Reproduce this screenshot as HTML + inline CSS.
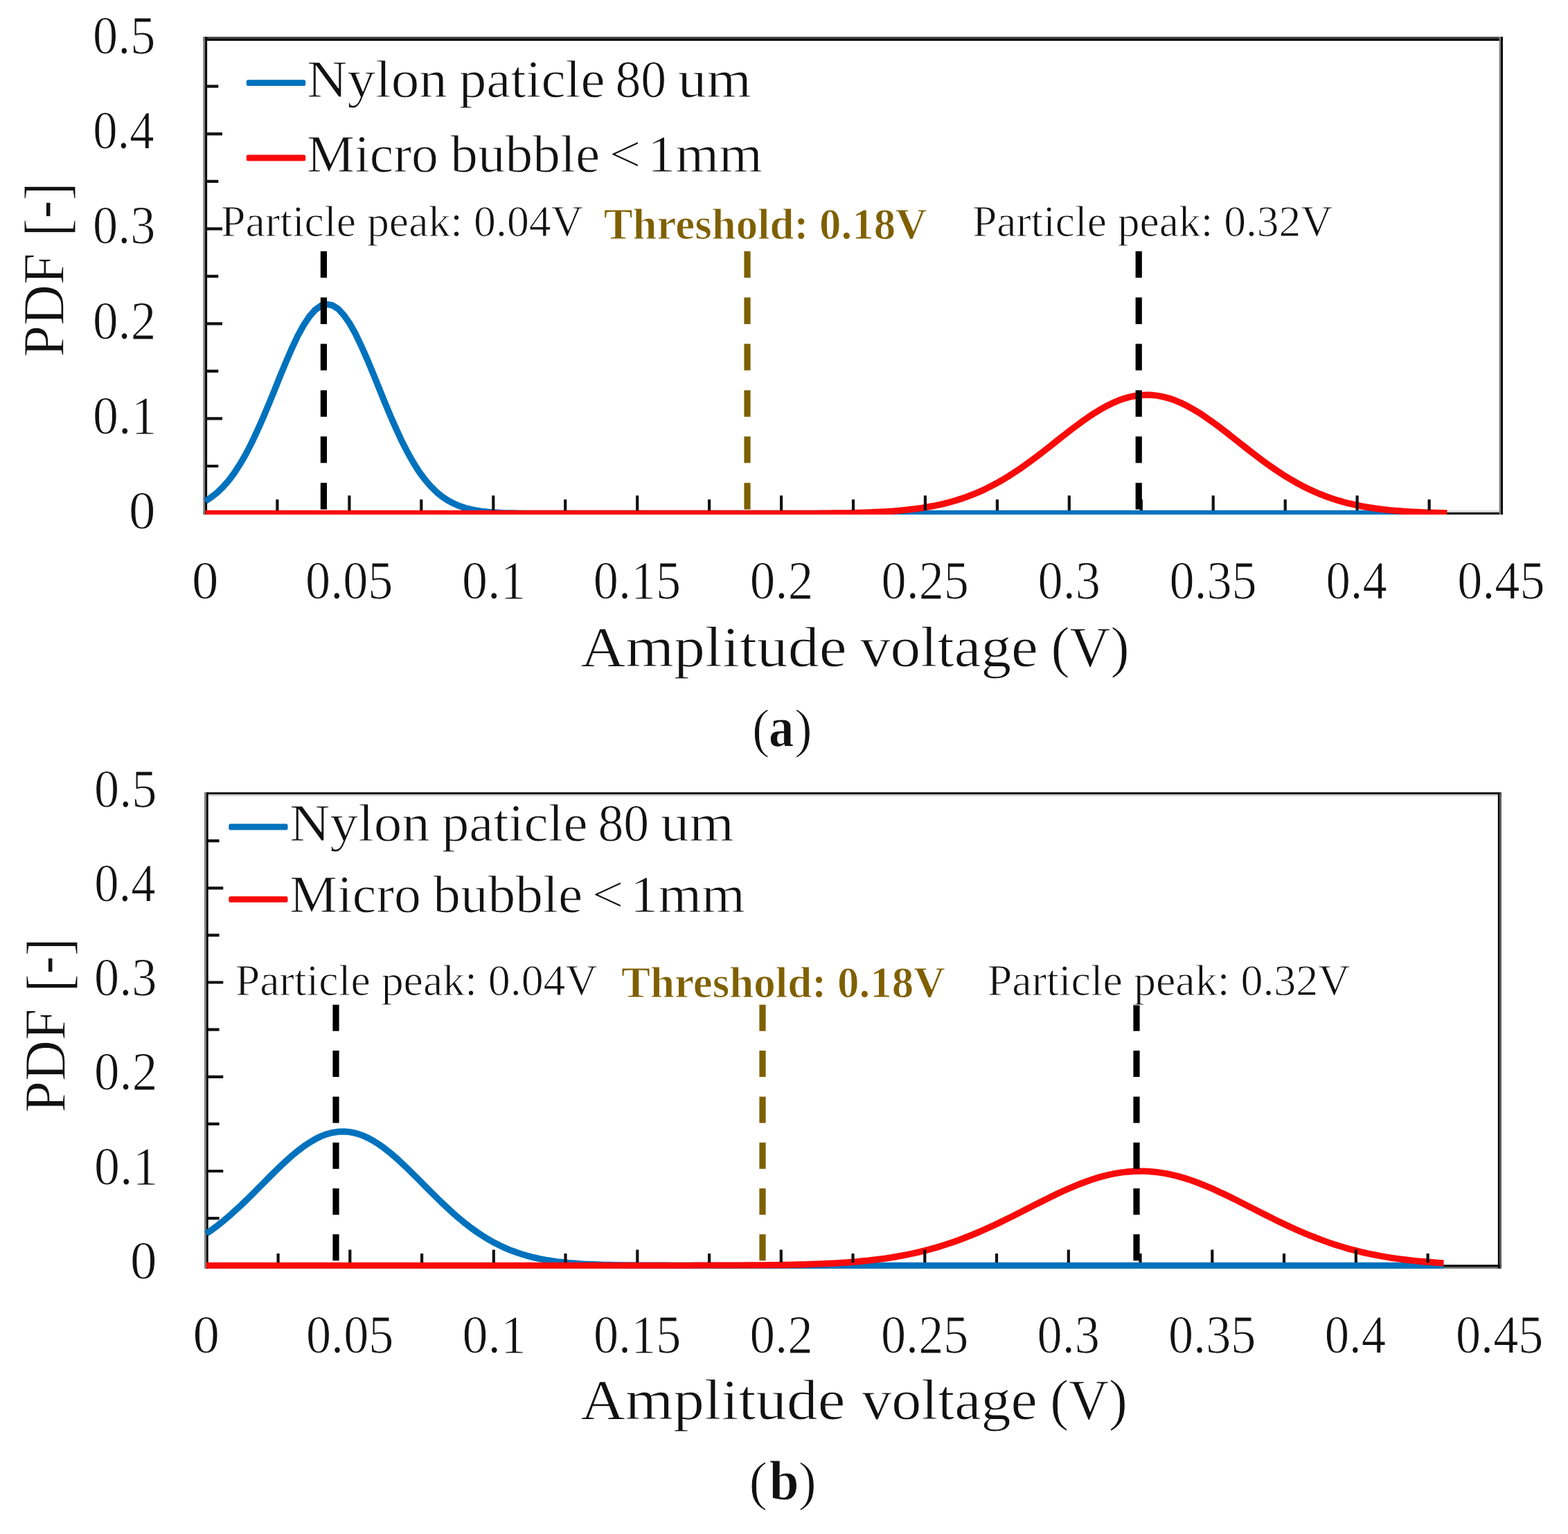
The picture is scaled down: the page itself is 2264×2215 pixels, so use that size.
<!DOCTYPE html>
<html lang="en">
<head>
<meta charset="utf-8">
<title>PDF of amplitude voltage: nylon particle vs micro bubble</title>
<style>
html,body{margin:0;padding:0;background:#fff;}
body{width:2264px;height:2215px;overflow:hidden;}
svg{display:block;}
text{font-family:"Liberation Serif", "DejaVu Serif", serif;white-space:pre;stroke:#fff;stroke-width:1.0px;stroke-linejoin:round;}
</style>
</head>
<body>
<svg width="2264" height="2215" viewBox="0 0 2264 2215" fill="#111">
<rect width="2264" height="2215" fill="#fff"/>
<g id="chart-a">
<clipPath id="clip-a"><rect x="293.5" y="53.2" width="1877.0" height="689.7"/></clipPath>
<g class="axes">
<rect x="293.3" y="53.1" width="1876.6" height="2.9" fill="#444"/>
<rect x="293.3" y="56" width="1876.6" height="2.9" fill="#000"/>
<rect x="293.3" y="737" width="1876.6" height="2.9" fill="#ddd"/>
<rect x="293.3" y="739.9" width="1876.6" height="3.0" fill="#000"/>
<rect x="293.3" y="53.1" width="2.8" height="689.8" fill="#808080"/>
<rect x="296.1" y="53.1" width="3.0" height="689.8" fill="#000"/>
<rect x="2164.6" y="53.1" width="2.5" height="689.8" fill="#808080"/>
<rect x="2167.1" y="53.1" width="2.8" height="689.8" fill="#000"/>
</g>
<g class="series" clip-path="url(#clip-a)">
<polyline points="296.5,723.6 304.8,718.2 313.2,711.6 321.5,703.6 329.9,694.2 338.2,683.1 346.5,670.3 354.9,655.8 363.2,639.7 371.5,622.0 379.9,603.1 388.2,583.2 396.6,562.7 404.9,542.0 413.2,521.9 421.6,502.7 429.9,485.1 438.3,469.7 446.6,457.1 454.9,447.6 463.3,441.6 471.6,439.3 480.0,440.9 488.3,446.2 496.6,455.1 505.0,467.2 513.3,482.1 521.6,499.4 530.0,518.3 538.3,538.3 546.7,558.9 555.0,579.5 563.3,599.5 571.7,618.7 580.0,636.6 588.4,653.0 596.7,667.8 605.0,680.9 613.4,692.3 621.7,702.0 630.1,710.3 638.4,717.1 646.7,722.7 655.1,727.1 663.4,730.7 671.7,733.5 680.1,735.6 688.4,737.2 696.8,738.5 705.1,739.3 713.4,740.0 721.8,740.5 730.1,740.8 738.5,741.0 746.8,741.2 755.1,741.3 763.5,741.4 771.8,741.4 780.1,741.4 788.5,741.5 796.8,741.5 805.2,741.5 813.5,741.5 821.8,741.5 830.2,741.5 838.5,741.5 846.9,741.5 855.2,741.5 863.5,741.5 871.9,741.5 880.2,741.5 888.6,741.5 896.9,741.5 905.2,741.5 913.6,741.5 921.9,741.5 930.2,741.5 938.6,741.5 946.9,741.5 955.3,741.5 963.6,741.5 971.9,741.5 980.3,741.5 988.6,741.5 997.0,741.5 1005.3,741.5 1013.6,741.5 1022.0,741.5 1030.3,741.5 1038.6,741.5 1047.0,741.5 1055.3,741.5 1063.7,741.5 1072.0,741.5 1080.3,741.5 1088.7,741.5 1097.0,741.5 1105.4,741.5 1113.7,741.5 1122.0,741.5 1130.4,741.5 1138.7,741.5 1147.1,741.5 1155.4,741.5 1163.7,741.5 1172.1,741.5 1180.4,741.5 1188.7,741.5 1197.1,741.5 1205.4,741.5 1213.8,741.5 1222.1,741.5 1230.4,741.5 1238.8,741.5 1247.1,741.5 1255.5,741.5 1263.8,741.5 1272.1,741.5 1280.5,741.5 1288.8,741.5 1297.2,741.5 1305.5,741.5 1313.8,741.5 1322.2,741.5 1330.5,741.5 1338.8,741.5 1347.2,741.5 1355.5,741.5 1363.9,741.5 1372.2,741.5 1380.5,741.5 1388.9,741.5 1397.2,741.5 1405.6,741.5 1413.9,741.5 1422.2,741.5 1430.6,741.5 1438.9,741.5 1447.2,741.5 1455.6,741.5 1463.9,741.5 1472.3,741.5 1480.6,741.5 1488.9,741.5 1497.3,741.5 1505.6,741.5 1514.0,741.5 1522.3,741.5 1530.6,741.5 1539.0,741.5 1547.3,741.5 1555.7,741.5 1564.0,741.5 1572.3,741.5 1580.7,741.5 1589.0,741.5 1597.3,741.5 1605.7,741.5 1614.0,741.5 1622.4,741.5 1630.7,741.5 1639.0,741.5 1647.4,741.5 1655.7,741.5 1664.1,741.5 1672.4,741.5 1680.7,741.5 1689.1,741.5 1697.4,741.5 1705.8,741.5 1714.1,741.5 1722.4,741.5 1730.8,741.5 1739.1,741.5 1747.4,741.5 1755.8,741.5 1764.1,741.5 1772.5,741.5 1780.8,741.5 1789.1,741.5 1797.5,741.5 1805.8,741.5 1814.2,741.5 1822.5,741.5 1830.8,741.5 1839.2,741.5 1847.5,741.5 1855.8,741.5 1864.2,741.5 1872.5,741.5 1880.9,741.5 1889.2,741.5 1897.5,741.5 1905.9,741.5 1914.2,741.5 1922.6,741.5 1930.9,741.5 1939.2,741.5 1947.6,741.5 1955.9,741.5 1964.3,741.5 1972.6,741.5 1980.9,741.5 1989.3,741.5 1997.6,741.5 2005.9,741.5 2014.3,741.5 2022.6,741.5 2031.0,741.5 2039.3,741.5 2047.6,741.5 2056.0,741.5 2064.3,741.5 2072.7,741.5 2081.0,741.5 2089.3,741.5" fill="none" stroke="#0072BD" stroke-width="9.3" stroke-linejoin="round"/>
<polyline points="296.5,741.5 304.8,741.5 313.2,741.5 321.5,741.5 329.9,741.5 338.2,741.5 346.5,741.5 354.9,741.5 363.2,741.5 371.5,741.5 379.9,741.5 388.2,741.5 396.6,741.5 404.9,741.5 413.2,741.5 421.6,741.5 429.9,741.5 438.3,741.5 446.6,741.5 454.9,741.5 463.3,741.5 471.6,741.5 480.0,741.5 488.3,741.5 496.6,741.5 505.0,741.5 513.3,741.5 521.6,741.5 530.0,741.5 538.3,741.5 546.7,741.5 555.0,741.5 563.3,741.5 571.7,741.5 580.0,741.5 588.4,741.5 596.7,741.5 605.0,741.5 613.4,741.5 621.7,741.5 630.1,741.5 638.4,741.5 646.7,741.5 655.1,741.5 663.4,741.5 671.7,741.5 680.1,741.5 688.4,741.5 696.8,741.5 705.1,741.5 713.4,741.5 721.8,741.5 730.1,741.5 738.5,741.5 746.8,741.5 755.1,741.5 763.5,741.5 771.8,741.5 780.1,741.5 788.5,741.5 796.8,741.5 805.2,741.5 813.5,741.5 821.8,741.5 830.2,741.5 838.5,741.5 846.9,741.5 855.2,741.5 863.5,741.5 871.9,741.5 880.2,741.5 888.6,741.5 896.9,741.5 905.2,741.5 913.6,741.5 921.9,741.5 930.2,741.5 938.6,741.5 946.9,741.5 955.3,741.5 963.6,741.5 971.9,741.5 980.3,741.5 988.6,741.5 997.0,741.5 1005.3,741.5 1013.6,741.5 1022.0,741.5 1030.3,741.5 1038.6,741.5 1047.0,741.5 1055.3,741.5 1063.7,741.5 1072.0,741.5 1080.3,741.5 1088.7,741.5 1097.0,741.5 1105.4,741.5 1113.7,741.5 1122.0,741.5 1130.4,741.4 1138.7,741.4 1147.1,741.4 1155.4,741.4 1163.7,741.3 1172.1,741.3 1180.4,741.3 1188.7,741.2 1197.1,741.1 1205.4,741.0 1213.8,740.9 1222.1,740.8 1230.4,740.6 1238.8,740.4 1247.1,740.2 1255.5,739.9 1263.8,739.5 1272.1,739.1 1280.5,738.6 1288.8,738.1 1297.2,737.4 1305.5,736.6 1313.8,735.7 1322.2,734.7 1330.5,733.6 1338.8,732.2 1347.2,730.7 1355.5,729.0 1363.9,727.1 1372.2,724.9 1380.5,722.5 1388.9,719.8 1397.2,716.9 1405.6,713.7 1413.9,710.2 1422.2,706.4 1430.6,702.2 1438.9,697.8 1447.2,693.1 1455.6,688.0 1463.9,682.7 1472.3,677.1 1480.6,671.3 1488.9,665.2 1497.3,659.0 1505.6,652.6 1514.0,646.1 1522.3,639.5 1530.6,632.9 1539.0,626.3 1547.3,619.9 1555.7,613.6 1564.0,607.5 1572.3,601.7 1580.7,596.2 1589.0,591.1 1597.3,586.5 1605.7,582.3 1614.0,578.7 1622.4,575.7 1630.7,573.3 1639.0,571.6 1647.4,570.6 1655.7,570.2 1664.1,570.5 1672.4,571.5 1680.7,573.2 1689.1,575.5 1697.4,578.4 1705.8,582.0 1714.1,586.1 1722.4,590.7 1730.8,595.7 1739.1,601.2 1747.4,607.0 1755.8,613.0 1764.1,619.3 1772.5,625.8 1780.8,632.3 1789.1,638.9 1797.5,645.5 1805.8,652.0 1814.2,658.4 1822.5,664.7 1830.8,670.7 1839.2,676.6 1847.5,682.2 1855.8,687.6 1864.2,692.6 1872.5,697.4 1880.9,701.8 1889.2,706.0 1897.5,709.8 1905.9,713.4 1914.2,716.6 1922.6,719.6 1930.9,722.3 1939.2,724.7 1947.6,726.9 1955.9,728.8 1964.3,730.6 1972.6,732.1 1980.9,733.4 1989.3,734.6 1997.6,735.7 2005.9,736.6 2014.3,737.3 2022.6,738.0 2031.0,738.6 2039.3,739.1 2047.6,739.5 2056.0,739.8 2064.3,740.1 2072.7,740.4 2081.0,740.6 2089.3,740.8" fill="none" stroke="#F80A0A" stroke-width="9.3" stroke-linejoin="round"/>
</g>
<path class="ticks" d="M296.5 673.0h18.8M296.5 604.4h24.5M296.5 535.9h18.8M296.5 467.4h24.5M296.5 398.9h18.8M296.5 330.3h24.5M296.5 261.8h18.8M296.5 193.3h24.5M296.5 124.7h18.8M400.4 737.1v-15.9M504.4 737.1v-21.6M608.3 737.1v-15.9M712.3 737.1v-21.6M816.2 737.1v-15.9M920.2 737.1v-21.6M1024.1 737.1v-15.9M1128.1 737.1v-21.6M1232.0 737.1v-15.9M1335.9 737.1v-21.6M1439.9 737.1v-15.9M1543.8 737.1v-21.6M1647.8 737.1v-15.9M1751.7 737.1v-21.6M1855.7 737.1v-15.9M1959.6 737.1v-21.6M2063.6 737.1v-15.9" fill="none" stroke="#111" stroke-width="4.2"/>
<g class="markers">
<line x1="467.4" y1="362.7" x2="467.4" y2="737.5" stroke="#000" stroke-width="9.2" stroke-dasharray="38.3 28.6"/>
<line x1="1079" y1="362.7" x2="1079" y2="737.5" stroke="#7F6000" stroke-width="9.2" stroke-dasharray="38.3 28.6"/>
<line x1="1644.2" y1="362.7" x2="1644.2" y2="737.5" stroke="#000" stroke-width="9.2" stroke-dasharray="38.3 28.6"/>
</g>
<g class="legend">
<rect x="355.8" y="115.30" width="85.4" height="8.8" rx="2.5" fill="#0072BD"/>
<rect x="355.8" y="223.60" width="85.4" height="8.8" rx="2.5" fill="#F80A0A"/>
</g>
<g class="labels">
<text><tspan x="443.0" y="140.2" font-size="75.5" textLength="202.8" lengthAdjust="spacingAndGlyphs">Nylon</tspan> <tspan x="662.8" y="140.2" font-size="75.5" textLength="210.8" lengthAdjust="spacingAndGlyphs">paticle</tspan> <tspan x="888.5" y="140.2" font-size="75.5" textLength="73.7" lengthAdjust="spacingAndGlyphs">80</tspan> <tspan x="978.7" y="140.2" font-size="75.5" textLength="106.2" lengthAdjust="spacingAndGlyphs">um</tspan></text>
<text><tspan x="443.1" y="247.7" font-size="75.5" textLength="189.8" lengthAdjust="spacingAndGlyphs">Micro</tspan> <tspan x="650.3" y="247.7" font-size="75.5" textLength="215.9" lengthAdjust="spacingAndGlyphs">bubble</tspan> <tspan x="879.4" y="247.7" font-size="75.5" textLength="45.9" lengthAdjust="spacingAndGlyphs">&lt;</tspan> <tspan x="934.8" y="247.7" font-size="75.5" textLength="166.2" lengthAdjust="spacingAndGlyphs">1mm</tspan></text>
<text x="134.1" y="77.3" font-size="77.5" textLength="90.3" lengthAdjust="spacingAndGlyphs">0.5</text>
<text x="134.2" y="214.4" font-size="77.5" textLength="88.4" lengthAdjust="spacingAndGlyphs">0.4</text>
<text x="134.1" y="351.4" font-size="77.5" textLength="90.3" lengthAdjust="spacingAndGlyphs">0.3</text>
<text x="134.0" y="488.5" font-size="77.5" textLength="91.4" lengthAdjust="spacingAndGlyphs">0.2</text>
<text x="134.0" y="625.5" font-size="77.5" textLength="92.4" lengthAdjust="spacingAndGlyphs">0.1</text>
<text x="186.0" y="762.6" font-size="77.5" textLength="38.5" lengthAdjust="spacingAndGlyphs">0</text>
<text><tspan x="277.1" y="864.2" font-size="77.5" textLength="38.5" lengthAdjust="spacingAndGlyphs">0</tspan> <tspan x="441.1" y="864.2" font-size="77.5" textLength="126.3" lengthAdjust="spacingAndGlyphs">0.05</tspan> <tspan x="667.0" y="864.2" font-size="77.5" textLength="92.4" lengthAdjust="spacingAndGlyphs">0.1</tspan> <tspan x="856.8" y="864.2" font-size="77.5" textLength="126.3" lengthAdjust="spacingAndGlyphs">0.15</tspan> <tspan x="1082.8" y="864.2" font-size="77.5" textLength="91.4" lengthAdjust="spacingAndGlyphs">0.2</tspan> <tspan x="1272.6" y="864.2" font-size="77.5" textLength="126.3" lengthAdjust="spacingAndGlyphs">0.25</tspan> <tspan x="1498.6" y="864.2" font-size="77.5" textLength="90.3" lengthAdjust="spacingAndGlyphs">0.3</tspan> <tspan x="1688.4" y="864.2" font-size="77.5" textLength="126.3" lengthAdjust="spacingAndGlyphs">0.35</tspan> <tspan x="1914.5" y="864.2" font-size="77.5" textLength="88.4" lengthAdjust="spacingAndGlyphs">0.4</tspan> <tspan x="2104.2" y="864.2" font-size="77.5" textLength="126.3" lengthAdjust="spacingAndGlyphs">0.45</tspan></text>
<text x="319.1" y="341.3" font-size="62.5" textLength="522.7" lengthAdjust="spacingAndGlyphs">Particle peak: 0.04V</text>
<text x="871.7" y="344.6" font-size="62.5" textLength="466.8" lengthAdjust="spacingAndGlyphs" font-weight="bold" fill="#7F6000">Threshold: 0.18V</text>
<text x="1403.9" y="341.3" font-size="62.5" textLength="520.3" lengthAdjust="spacingAndGlyphs">Particle peak: 0.32V</text>
<text><tspan x="838.3" y="962.0" font-size="83" textLength="384.3" lengthAdjust="spacingAndGlyphs">Amplitude</tspan> <tspan x="1241.9" y="962.0" font-size="83" textLength="257.0" lengthAdjust="spacingAndGlyphs">voltage</tspan> <tspan x="1517.5" y="962.0" font-size="83" textLength="113.0" lengthAdjust="spacingAndGlyphs">(V)</tspan></text>
<text><tspan x="1085.9" y="1077.7" font-size="78" textLength="25.3" lengthAdjust="spacingAndGlyphs">(</tspan><tspan x="1110.0" y="1077.7" font-size="82" textLength="36.3" lengthAdjust="spacingAndGlyphs" font-weight="bold">a</tspan><tspan x="1147.3" y="1077.7" font-size="78" textLength="25.4" lengthAdjust="spacingAndGlyphs">)</tspan></text>
<text x="92.4" y="515.5" font-size="85" textLength="150" lengthAdjust="spacingAndGlyphs" transform="rotate(-90 92.4 515.5)">PDF</text>
<text x="97.2" y="341.5" font-size="89.3" textLength="78" lengthAdjust="spacingAndGlyphs" transform="rotate(-90 97.2 341.5)">[<tspan dy="-6.5">-</tspan><tspan dy="6.5">]</tspan></text>
</g>
</g>
<g id="chart-b">
<clipPath id="clip-b"><rect x="294.8" y="1143.0" width="1873.5" height="688.7"/></clipPath>
<g class="axes">
<rect x="295" y="1144.1" width="1872.9" height="2.8" fill="#000"/>
<rect x="295" y="1146.9" width="1872.9" height="2.5" fill="#ccc"/>
<rect x="295" y="1826.2" width="1872.9" height="2.8" fill="#000"/>
<rect x="295" y="1829" width="1872.9" height="2.7" fill="#666"/>
<rect x="295" y="1144.1" width="3.0" height="687.6" fill="#808080"/>
<rect x="298" y="1144.1" width="2.7" height="687.6" fill="#000"/>
<rect x="2162.8" y="1144.1" width="2.7" height="687.6" fill="#000"/>
<rect x="2165.5" y="1144.1" width="2.4" height="687.6" fill="#555"/>
</g>
<g class="series" clip-path="url(#clip-b)">
<polyline points="297.8,1781.4 306.1,1775.6 314.4,1769.4 322.7,1762.8 331.0,1755.7 339.3,1748.3 347.7,1740.6 356.0,1732.6 364.3,1724.5 372.6,1716.1 380.9,1707.7 389.2,1699.4 397.5,1691.1 405.8,1683.1 414.1,1675.4 422.4,1668.0 430.8,1661.2 439.1,1654.9 447.4,1649.4 455.7,1644.5 464.0,1640.5 472.3,1637.4 480.6,1635.3 488.9,1634.1 497.2,1633.8 505.5,1634.6 513.9,1636.4 522.2,1639.1 530.5,1642.7 538.8,1647.1 547.1,1652.4 555.4,1658.3 563.7,1664.9 572.0,1672.0 580.3,1679.6 588.6,1687.5 596.9,1695.7 605.3,1704.0 613.6,1712.4 621.9,1720.8 630.2,1729.0 638.5,1737.1 646.8,1744.9 655.1,1752.5 663.4,1759.7 671.7,1766.5 680.0,1772.9 688.4,1778.9 696.7,1784.4 705.0,1789.5 713.3,1794.2 721.6,1798.4 729.9,1802.3 738.2,1805.7 746.5,1808.7 754.8,1811.4 763.1,1813.8 771.5,1815.9 779.8,1817.7 788.1,1819.3 796.4,1820.6 804.7,1821.8 813.0,1822.7 821.3,1823.6 829.6,1824.2 837.9,1824.8 846.2,1825.3 854.5,1825.7 862.9,1826.0 871.2,1826.3 879.5,1826.5 887.8,1826.7 896.1,1826.8 904.4,1826.9 912.7,1827.0 921.0,1827.1 929.3,1827.1 937.6,1827.2 946.0,1827.2 954.3,1827.2 962.6,1827.2 970.9,1827.3 979.2,1827.3 987.5,1827.3 995.8,1827.3 1004.1,1827.3 1012.4,1827.3 1020.7,1827.3 1029.0,1827.3 1037.4,1827.3 1045.7,1827.3 1054.0,1827.3 1062.3,1827.3 1070.6,1827.3 1078.9,1827.3 1087.2,1827.3 1095.5,1827.3 1103.8,1827.3 1112.1,1827.3 1120.5,1827.3 1128.8,1827.3 1137.1,1827.3 1145.4,1827.3 1153.7,1827.3 1162.0,1827.3 1170.3,1827.3 1178.6,1827.3 1186.9,1827.3 1195.2,1827.3 1203.6,1827.3 1211.9,1827.3 1220.2,1827.3 1228.5,1827.3 1236.8,1827.3 1245.1,1827.3 1253.4,1827.3 1261.7,1827.3 1270.0,1827.3 1278.3,1827.3 1286.6,1827.3 1295.0,1827.3 1303.3,1827.3 1311.6,1827.3 1319.9,1827.3 1328.2,1827.3 1336.5,1827.3 1344.8,1827.3 1353.1,1827.3 1361.4,1827.3 1369.7,1827.3 1378.1,1827.3 1386.4,1827.3 1394.7,1827.3 1403.0,1827.3 1411.3,1827.3 1419.6,1827.3 1427.9,1827.3 1436.2,1827.3 1444.5,1827.3 1452.8,1827.3 1461.2,1827.3 1469.5,1827.3 1477.8,1827.3 1486.1,1827.3 1494.4,1827.3 1502.7,1827.3 1511.0,1827.3 1519.3,1827.3 1527.6,1827.3 1535.9,1827.3 1544.2,1827.3 1552.6,1827.3 1560.9,1827.3 1569.2,1827.3 1577.5,1827.3 1585.8,1827.3 1594.1,1827.3 1602.4,1827.3 1610.7,1827.3 1619.0,1827.3 1627.3,1827.3 1635.7,1827.3 1644.0,1827.3 1652.3,1827.3 1660.6,1827.3 1668.9,1827.3 1677.2,1827.3 1685.5,1827.3 1693.8,1827.3 1702.1,1827.3 1710.4,1827.3 1718.8,1827.3 1727.1,1827.3 1735.4,1827.3 1743.7,1827.3 1752.0,1827.3 1760.3,1827.3 1768.6,1827.3 1776.9,1827.3 1785.2,1827.3 1793.5,1827.3 1801.8,1827.3 1810.2,1827.3 1818.5,1827.3 1826.8,1827.3 1835.1,1827.3 1843.4,1827.3 1851.7,1827.3 1860.0,1827.3 1868.3,1827.3 1876.6,1827.3 1884.9,1827.3 1893.3,1827.3 1901.6,1827.3 1909.9,1827.3 1918.2,1827.3 1926.5,1827.3 1934.8,1827.3 1943.1,1827.3 1951.4,1827.3 1959.7,1827.3 1968.0,1827.3 1976.3,1827.3 1984.7,1827.3 1993.0,1827.3 2001.3,1827.3 2009.6,1827.3 2017.9,1827.3 2026.2,1827.3 2034.5,1827.3 2042.8,1827.3 2051.1,1827.3 2059.4,1827.3 2067.8,1827.3 2076.1,1827.3 2084.4,1827.3" fill="none" stroke="#0072BD" stroke-width="9.3" stroke-linejoin="round"/>
<polyline points="297.8,1827.3 306.1,1827.3 314.4,1827.3 322.7,1827.3 331.0,1827.3 339.3,1827.3 347.7,1827.3 356.0,1827.3 364.3,1827.3 372.6,1827.3 380.9,1827.3 389.2,1827.3 397.5,1827.3 405.8,1827.3 414.1,1827.3 422.4,1827.3 430.8,1827.3 439.1,1827.3 447.4,1827.3 455.7,1827.3 464.0,1827.3 472.3,1827.3 480.6,1827.3 488.9,1827.3 497.2,1827.3 505.5,1827.3 513.9,1827.3 522.2,1827.3 530.5,1827.3 538.8,1827.3 547.1,1827.3 555.4,1827.3 563.7,1827.3 572.0,1827.3 580.3,1827.3 588.6,1827.3 596.9,1827.3 605.3,1827.3 613.6,1827.3 621.9,1827.3 630.2,1827.3 638.5,1827.3 646.8,1827.3 655.1,1827.3 663.4,1827.3 671.7,1827.3 680.0,1827.3 688.4,1827.3 696.7,1827.3 705.0,1827.3 713.3,1827.3 721.6,1827.3 729.9,1827.3 738.2,1827.3 746.5,1827.3 754.8,1827.3 763.1,1827.3 771.5,1827.3 779.8,1827.3 788.1,1827.3 796.4,1827.3 804.7,1827.3 813.0,1827.3 821.3,1827.3 829.6,1827.3 837.9,1827.3 846.2,1827.3 854.5,1827.3 862.9,1827.3 871.2,1827.3 879.5,1827.3 887.8,1827.3 896.1,1827.3 904.4,1827.3 912.7,1827.3 921.0,1827.3 929.3,1827.3 937.6,1827.3 946.0,1827.3 954.3,1827.3 962.6,1827.3 970.9,1827.3 979.2,1827.3 987.5,1827.3 995.8,1827.3 1004.1,1827.2 1012.4,1827.2 1020.7,1827.2 1029.0,1827.2 1037.4,1827.2 1045.7,1827.2 1054.0,1827.1 1062.3,1827.1 1070.6,1827.1 1078.9,1827.0 1087.2,1827.0 1095.5,1826.9 1103.8,1826.8 1112.1,1826.7 1120.5,1826.6 1128.8,1826.5 1137.1,1826.3 1145.4,1826.2 1153.7,1826.0 1162.0,1825.8 1170.3,1825.5 1178.6,1825.2 1186.9,1824.9 1195.2,1824.5 1203.6,1824.1 1211.9,1823.6 1220.2,1823.1 1228.5,1822.5 1236.8,1821.8 1245.1,1821.0 1253.4,1820.2 1261.7,1819.2 1270.0,1818.2 1278.3,1817.1 1286.6,1815.8 1295.0,1814.4 1303.3,1812.9 1311.6,1811.3 1319.9,1809.5 1328.2,1807.6 1336.5,1805.5 1344.8,1803.3 1353.1,1801.0 1361.4,1798.4 1369.7,1795.7 1378.1,1792.9 1386.4,1789.9 1394.7,1786.7 1403.0,1783.4 1411.3,1779.9 1419.6,1776.3 1427.9,1772.6 1436.2,1768.7 1444.5,1764.8 1452.8,1760.7 1461.2,1756.6 1469.5,1752.4 1477.8,1748.2 1486.1,1743.9 1494.4,1739.7 1502.7,1735.5 1511.0,1731.3 1519.3,1727.3 1527.6,1723.3 1535.9,1719.4 1544.2,1715.7 1552.6,1712.2 1560.9,1708.9 1569.2,1705.8 1577.5,1702.9 1585.8,1700.3 1594.1,1698.0 1602.4,1696.0 1610.7,1694.3 1619.0,1693.0 1627.3,1692.0 1635.7,1691.3 1644.0,1691.1 1652.3,1691.1 1660.6,1691.6 1668.9,1692.3 1677.2,1693.5 1685.5,1694.9 1693.8,1696.7 1702.1,1698.8 1710.4,1701.3 1718.8,1703.9 1727.1,1706.9 1735.4,1710.1 1743.7,1713.5 1752.0,1717.1 1760.3,1720.9 1768.6,1724.8 1776.9,1728.8 1785.2,1732.9 1793.5,1737.1 1801.8,1741.3 1810.2,1745.6 1818.5,1749.8 1826.8,1754.0 1835.1,1758.2 1843.4,1762.3 1851.7,1766.3 1860.0,1770.2 1868.3,1774.0 1876.6,1777.7 1884.9,1781.2 1893.3,1784.7 1901.6,1787.9 1909.9,1791.0 1918.2,1794.0 1926.5,1796.8 1934.8,1799.4 1943.1,1801.9 1951.4,1804.2 1959.7,1806.3 1968.0,1808.4 1976.3,1810.2 1984.7,1811.9 1993.0,1813.5 2001.3,1815.0 2009.6,1816.3 2017.9,1817.5 2026.2,1818.6 2034.5,1819.6 2042.8,1820.5 2051.1,1821.3 2059.4,1822.0 2067.8,1822.7 2076.1,1823.3 2084.4,1823.8" fill="none" stroke="#F80A0A" stroke-width="9.3" stroke-linejoin="round"/>
</g>
<path class="ticks" d="M297.8 1759.2h18.8M297.8 1691.0h24.5M297.8 1622.9h18.8M297.8 1554.8h24.5M297.8 1486.7h18.8M297.8 1418.5h24.5M297.8 1350.4h18.8M297.8 1282.3h24.5M297.8 1214.1h18.8M401.6 1822.9v-12.9M505.3 1822.9v-18.3M609.1 1822.9v-12.9M712.8 1822.9v-18.3M816.5 1822.9v-12.9M920.3 1822.9v-18.3M1024.1 1822.9v-12.9M1127.8 1822.9v-18.3M1231.5 1822.9v-12.9M1335.3 1822.9v-18.3M1439.0 1822.9v-12.9M1542.8 1822.9v-18.3M1646.5 1822.9v-12.9M1750.3 1822.9v-18.3M1854.0 1822.9v-12.9M1957.8 1822.9v-18.3M2061.6 1822.9v-12.9" fill="none" stroke="#111" stroke-width="4.2"/>
<g class="markers">
<line x1="485" y1="1450.8" x2="485" y2="1823.3" stroke="#000" stroke-width="9.2" stroke-dasharray="38 28.3"/>
<line x1="1101" y1="1450.8" x2="1101" y2="1823.3" stroke="#7F6000" stroke-width="9.2" stroke-dasharray="38 28.3"/>
<line x1="1641" y1="1450.8" x2="1641" y2="1823.3" stroke="#000" stroke-width="9.2" stroke-dasharray="38 28.3"/>
</g>
<g class="legend">
<rect x="330.3" y="1189.60" width="85.2" height="8.8" rx="2.5" fill="#0072BD"/>
<rect x="330.3" y="1294.20" width="85.2" height="8.8" rx="2.5" fill="#F80A0A"/>
</g>
<g class="labels">
<text><tspan x="418.0" y="1214.0" font-size="75.5" textLength="202.8" lengthAdjust="spacingAndGlyphs">Nylon</tspan> <tspan x="637.8" y="1214.0" font-size="75.5" textLength="210.8" lengthAdjust="spacingAndGlyphs">paticle</tspan> <tspan x="863.5" y="1214.0" font-size="75.5" textLength="73.7" lengthAdjust="spacingAndGlyphs">80</tspan> <tspan x="953.7" y="1214.0" font-size="75.5" textLength="106.2" lengthAdjust="spacingAndGlyphs">um</tspan></text>
<text><tspan x="418.1" y="1317.3" font-size="75.5" textLength="189.8" lengthAdjust="spacingAndGlyphs">Micro</tspan> <tspan x="625.3" y="1317.3" font-size="75.5" textLength="215.9" lengthAdjust="spacingAndGlyphs">bubble</tspan> <tspan x="854.4" y="1317.3" font-size="75.5" textLength="45.9" lengthAdjust="spacingAndGlyphs">&lt;</tspan> <tspan x="909.8" y="1317.3" font-size="75.5" textLength="166.2" lengthAdjust="spacingAndGlyphs">1mm</tspan></text>
<text x="136.1" y="1164.5" font-size="77.5" textLength="90.3" lengthAdjust="spacingAndGlyphs">0.5</text>
<text x="136.2" y="1300.8" font-size="77.5" textLength="88.4" lengthAdjust="spacingAndGlyphs">0.4</text>
<text x="136.1" y="1437.0" font-size="77.5" textLength="90.3" lengthAdjust="spacingAndGlyphs">0.3</text>
<text x="136.0" y="1573.3" font-size="77.5" textLength="91.4" lengthAdjust="spacingAndGlyphs">0.2</text>
<text x="136.0" y="1709.5" font-size="77.5" textLength="92.4" lengthAdjust="spacingAndGlyphs">0.1</text>
<text x="188.0" y="1845.8" font-size="77.5" textLength="38.5" lengthAdjust="spacingAndGlyphs">0</text>
<text><tspan x="278.4" y="1952.8" font-size="77.5" textLength="38.5" lengthAdjust="spacingAndGlyphs">0</tspan> <tspan x="442.0" y="1952.8" font-size="77.5" textLength="126.3" lengthAdjust="spacingAndGlyphs">0.05</tspan> <tspan x="667.5" y="1952.8" font-size="77.5" textLength="92.4" lengthAdjust="spacingAndGlyphs">0.1</tspan> <tspan x="857.0" y="1952.8" font-size="77.5" textLength="126.3" lengthAdjust="spacingAndGlyphs">0.15</tspan> <tspan x="1082.5" y="1952.8" font-size="77.5" textLength="91.4" lengthAdjust="spacingAndGlyphs">0.2</tspan> <tspan x="1272.0" y="1952.8" font-size="77.5" textLength="126.3" lengthAdjust="spacingAndGlyphs">0.25</tspan> <tspan x="1497.6" y="1952.8" font-size="77.5" textLength="90.3" lengthAdjust="spacingAndGlyphs">0.3</tspan> <tspan x="1687.0" y="1952.8" font-size="77.5" textLength="126.3" lengthAdjust="spacingAndGlyphs">0.35</tspan> <tspan x="1912.7" y="1952.8" font-size="77.5" textLength="88.4" lengthAdjust="spacingAndGlyphs">0.4</tspan> <tspan x="2102.0" y="1952.8" font-size="77.5" textLength="126.3" lengthAdjust="spacingAndGlyphs">0.45</tspan></text>
<text x="339.8" y="1437.0" font-size="62.5" textLength="522.8" lengthAdjust="spacingAndGlyphs">Particle peak: 0.04V</text>
<text x="896.9" y="1440.0" font-size="62.5" textLength="467.8" lengthAdjust="spacingAndGlyphs" font-weight="bold" fill="#7F6000">Threshold: 0.18V</text>
<text x="1425.7" y="1437.0" font-size="62.5" textLength="523.8" lengthAdjust="spacingAndGlyphs">Particle peak: 0.32V</text>
<text><tspan x="838.3" y="2049.0" font-size="83" textLength="382.0" lengthAdjust="spacingAndGlyphs">Amplitude</tspan> <tspan x="1244.2" y="2049.0" font-size="83" textLength="253.5" lengthAdjust="spacingAndGlyphs">voltage</tspan> <tspan x="1516.2" y="2049.0" font-size="83" textLength="111.6" lengthAdjust="spacingAndGlyphs">(V)</tspan></text>
<text><tspan x="1081.4" y="2165.1" font-size="78" textLength="26.5" lengthAdjust="spacingAndGlyphs">(</tspan><tspan x="1110.8" y="2165.1" font-size="80" textLength="42.8" lengthAdjust="spacingAndGlyphs" font-weight="bold">b</tspan><tspan x="1152.8" y="2165.1" font-size="78" textLength="26.0" lengthAdjust="spacingAndGlyphs">)</tspan></text>
<text x="94.2" y="1606.5" font-size="85" textLength="150" lengthAdjust="spacingAndGlyphs" transform="rotate(-90 94.2 1606.5)">PDF</text>
<text x="100" y="1432.5" font-size="89.3" textLength="78" lengthAdjust="spacingAndGlyphs" transform="rotate(-90 100 1432.5)">[<tspan dy="-6.5">-</tspan><tspan dy="6.5">]</tspan></text>
</g>
</g>
</svg>
</body>
</html>
